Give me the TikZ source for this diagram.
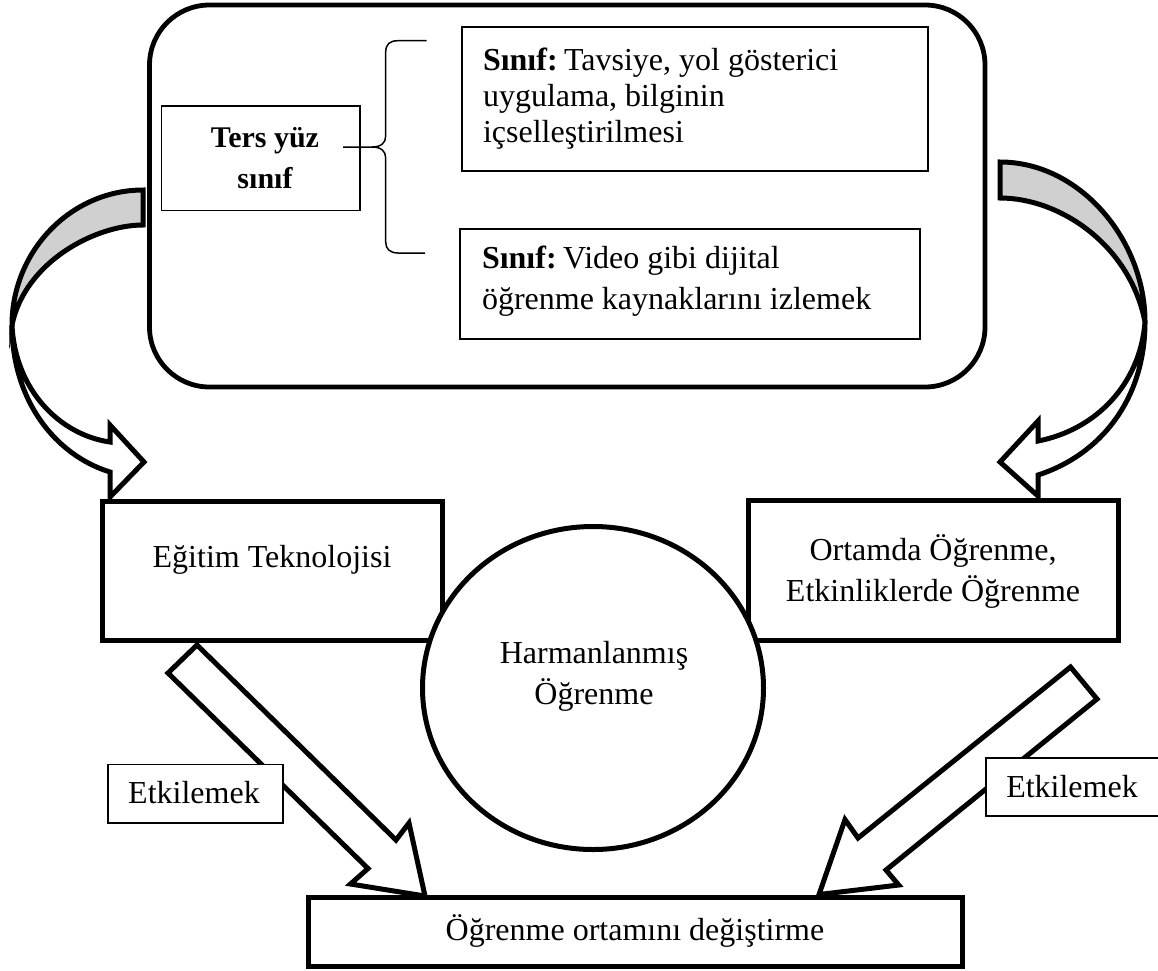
\documentclass[tikz,border=0pt]{standalone}
\usepackage{fontspec}
\setmainfont{Liberation Serif}
\usetikzlibrary{shapes.geometric}
\definecolor{ribbon}{HTML}{D0D0D0}
\begin{document}
\begin{tikzpicture}[x=1pt,y=-1pt,
  heavy/.style={line width=5pt, line join=miter},
  thinbox/.style={draw, line width=1.4pt, fill=white, inner sep=0pt, outer sep=0pt},
  bigbox/.style={draw, line width=5pt, fill=white, inner sep=0pt, outer sep=0pt},
  txt/.style={font=\fontsize{32}{41}\selectfont, inner sep=0pt, outer sep=0pt},
  boldtxt/.style={font=\fontsize{30}{41}\selectfont\bfseries, inner sep=0pt, outer sep=0pt}]
\useasboundingbox (0,0) rectangle (1158,970);

% ---- upper frame with its contents ----
\node[draw, line width=4.8pt, rounded corners=60pt, minimum width=835.5pt,
      minimum height=382pt, inner sep=0pt] (frame) at (567.25,196) {};

% (multi-line texts are anchored at the baseline of their last line)
\node[thinbox, minimum width=198.3pt, minimum height=104.7pt] (ters) at (260.85,158.35) {};
\node[boldtxt, align=center, anchor=base] (terstxt) at (265,188) {Ters yüz\\sınıf};

\node[thinbox, minimum width=466pt, minimum height=144pt] (sinif1) at (695,99) {};
\node[txt, align=left, anchor=base west, font=\fontsize{32}{36}\selectfont] (sinif1txt) at (483,142)
  {\textbf{Sınıf:}\hspace{0.2em}Tavsiye, yol gösterici\\uygulama, bilginin\\içselleştirilmesi};

\node[thinbox, minimum width=460pt, minimum height=110pt] (sinif2) at (690,284) {};
\node[txt, align=left, anchor=base west] (sinif2txt) at (482,309)
  {\textbf{Sınıf:}\hspace{0.2em}Video gibi dijital\\öğrenme kaynaklarını izlemek};

% brace joining the two class boxes
\coordinate (brtop) at (426.7,40.7);
\coordinate (brtip) at (343,147);
\coordinate (brbot) at (425,253);
\draw[line width=1.5pt] (brtop) -- (398,40.7) .. controls (390,40.7) and (385.7,44) .. (385.7,52)
  -- (385.7,136) .. controls (385.7,143) and (381,147) .. (372,147) -- (brtip);
\draw[line width=1.5pt] (372,147) .. controls (381,147) and (385.7,151) .. (385.7,158)
  -- (385.7,242) .. controls (385.7,249) and (390,253) .. (398,253) -- (brbot);

% ---- curved ribbon arrows ----
% left
\draw[heavy, fill=ribbon] (143,190) .. controls (71,190) and (12,251) .. (12,325)
  .. controls (25,262) and (95,225) .. (143,225) -- cycle;
\draw[heavy, fill=white] (12,325) .. controls (12,400) and (55,455) .. (110,472)
  -- (110,497) -- (144,462) -- (110,425) -- (110,442)
  .. controls (60,435) and (15,390) .. (12,325) -- cycle;
% right
\draw[heavy, fill=ribbon] (1000,162) .. controls (1080,162) and (1145,240) .. (1145,322)
  .. controls (1130,245) and (1060,198) .. (1000,198) -- cycle;
\draw[heavy, fill=white] (1145,322) .. controls (1145,400) and (1100,455) .. (1038,475)
  -- (1038,496) -- (1000,462) -- (1038,421) -- (1038,441)
  .. controls (1095,430) and (1140,385) .. (1145,322) -- cycle;

% ---- middle row ----
\node[bigbox, minimum width=339.5pt, minimum height=139pt] (egitim) at (272.25,570.5) {};
\node[txt, anchor=base] (egitimtxt) at (272,567) {Eğitim Teknolojisi};

\node[bigbox, minimum width=370pt, minimum height=140pt] (ortam) at (933,570) {};
\node[txt, align=center, anchor=base] (ortamtxt) at (933,601)
  {Ortamda Öğrenme,\\Etkinliklerde Öğrenme};

\node[bigbox, ellipse, minimum width=341pt, minimum height=323pt] (harman) at (593,688) {};
\node[txt, align=center, anchor=base] (harmantxt) at (594,704) {Harmanlanmış\\Öğrenme};

% ---- block arrows down to the result ----
\draw[heavy, fill=white] (197,645) -- (396,840) -- (409,823) -- (425,896)
  -- (350.5,884) -- (368,868.5) -- (168,673) -- cycle;
\draw[heavy, fill=white] (1070.5,667) -- (858,838) -- (845,819.6) -- (819,894.5)
  -- (898.7,885) -- (886,870) -- (1097,699) -- cycle;

\node[thinbox, minimum width=175pt, minimum height=58.5pt] (etk1) at (195.5,793.75) {};
\node[txt, anchor=base] (etk1txt) at (194,803) {Etkilemek};
\node[thinbox, minimum width=178pt, minimum height=58pt] (etk2) at (1075,787) {};
\node[txt, anchor=base] (etk2txt) at (1072,797) {Etkilemek};

\node[bigbox, minimum width=653.5pt, minimum height=69pt] (sonuc) at (635.25,932) {};
\node[txt, anchor=base] (sonuctxt) at (635,940) {Öğrenme ortamını değiştirme};
\end{tikzpicture}
\end{document}
